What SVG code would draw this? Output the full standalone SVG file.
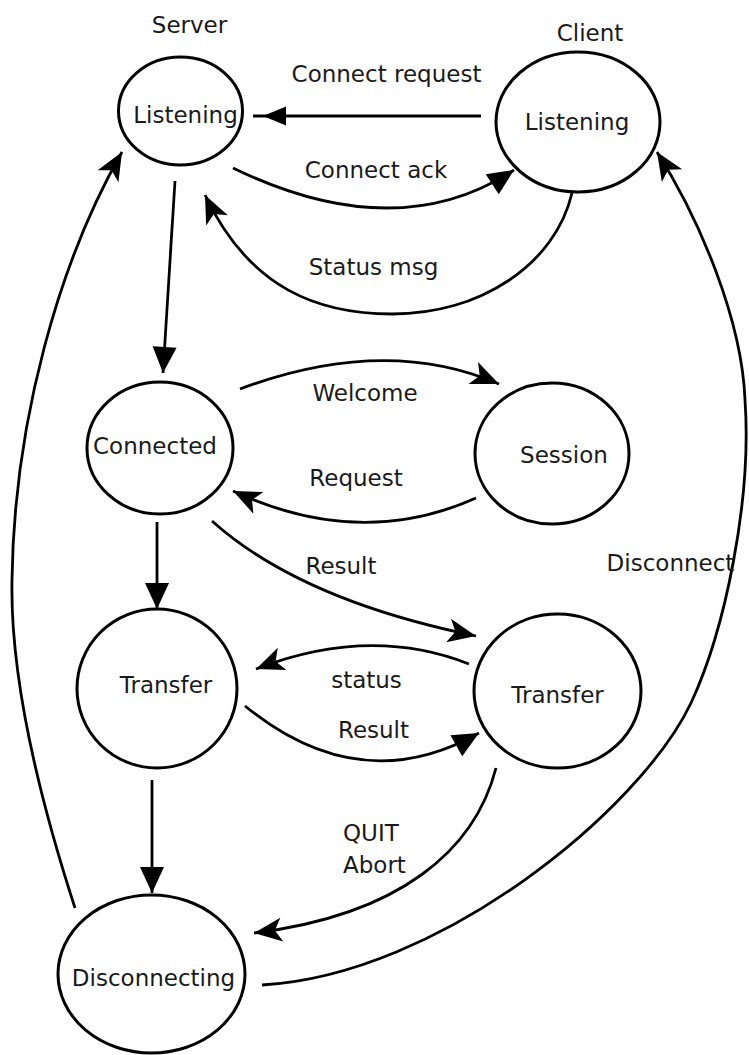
<svg xmlns="http://www.w3.org/2000/svg" width="749" height="1055" viewBox="0 0 749 1055">
<style>
.node ellipse{fill:#fff;stroke:#000;stroke-width:3}
text{font-family:"DejaVu Sans","Liberation Sans",sans-serif;font-size:23px;fill:#1a1a1a}
.m{text-anchor:middle}
#connectors path{fill:none;stroke:#000;stroke-width:2.8}
</style>
<defs>
<marker id="tri" markerUnits="userSpaceOnUse" markerWidth="26" markerHeight="24" refX="26" refY="12" orient="auto" overflow="visible"><path d="M0,0 L26,12 L0,24 z" fill="#000"/></marker>
<marker id="notch" markerUnits="userSpaceOnUse" markerWidth="28" markerHeight="24" refX="28" refY="12" orient="auto" overflow="visible"><path d="M0,0 L28,12 L0,24 L7,12 z" fill="#000"/></marker>
<marker id="stub" markerUnits="userSpaceOnUse" markerWidth="33" markerHeight="19" refX="33" refY="9.5" orient="auto" overflow="visible"><path d="M0,0 L23,9.5 L0,19 z" fill="#000"/></marker>
</defs>
<rect width="749" height="1055" fill="#fff"/>
<text class="m" x="189.5" y="33">Server</text>
<text class="m" x="590" y="41">Client</text>
<g id="connectors">
<path d="M481,116 L253,116" marker-end="url(#stub)"/>
<path d="M233,168 Q396,247 514,170" marker-end="url(#tri)"/>
<path d="M572,193 C555,265 480,314 392,314 C320,314 250,290 205,195" marker-end="url(#notch)"/>
<path d="M175,181 L163,373" marker-end="url(#tri)"/>
<path d="M75,908 C40,800 10,680 12,580 C14,420 60,260 122,152" marker-end="url(#notch)"/>
<path d="M240,389 Q385,335 499,384" marker-end="url(#notch)"/>
<path d="M476,498 Q360,550 233,491" marker-end="url(#notch)"/>
<path d="M157,522 L157,609" marker-end="url(#tri)"/>
<path d="M212,521 Q300,600 476,636" marker-end="url(#notch)"/>
<path d="M469,664 Q370,625 256,669" marker-end="url(#notch)"/>
<path d="M245,706 Q360,800 479,733" marker-end="url(#tri)"/>
<path d="M152,780 L152,893" marker-end="url(#tri)"/>
<path d="M496,768 C475,850 400,915 254,933" marker-end="url(#notch)"/>
<path d="M262,985 C440,975 640,810 691,703 C725,630 752,500 745,400 C742,320 700,220 657,152" marker-end="url(#notch)"/>
<text class="m" x="386.5" y="82">Connect request</text>
<text class="m" x="376" y="178">Connect ack</text>
<text class="m" x="373.5" y="275">Status msg</text>
<text class="m" x="365" y="401">Welcome</text>
<text class="m" x="356" y="486">Request</text>
<text class="m" x="341" y="574">Result</text>
<text class="m" x="670.5" y="571">Disconnect</text>
<text class="m" x="366.5" y="688">status</text>
<text class="m" x="373.5" y="738">Result</text>
<text x="343" y="841">QUIT</text>
<text x="343" y="873">Abort</text>
</g>
<g id="server-listening" class="node"><ellipse cx="180.5" cy="111" rx="62" ry="54"/><text class="m" x="185.5" y="123">Listening</text></g>
<g id="client-listening" class="node"><ellipse cx="578" cy="122" rx="82" ry="70"/><text class="m" x="577" y="130">Listening</text></g>
<g id="connected" class="node"><ellipse cx="160" cy="448" rx="73" ry="66"/><text class="m" x="155" y="454">Connected</text></g>
<g id="session" class="node"><ellipse cx="552" cy="453.5" rx="77" ry="70.5"/><text class="m" x="564" y="463">Session</text></g>
<g id="transfer-server" class="node"><ellipse cx="157" cy="688.5" rx="80" ry="79.5"/><text class="m" x="166" y="693">Transfer</text></g>
<g id="transfer-client" class="node"><ellipse cx="557.5" cy="691" rx="83.5" ry="77"/><text class="m" x="557.5" y="703">Transfer</text></g>
<g id="disconnecting" class="node"><ellipse cx="151.5" cy="974" rx="93.5" ry="79"/><text class="m" x="153.5" y="986">Disconnecting</text></g>
</svg>
